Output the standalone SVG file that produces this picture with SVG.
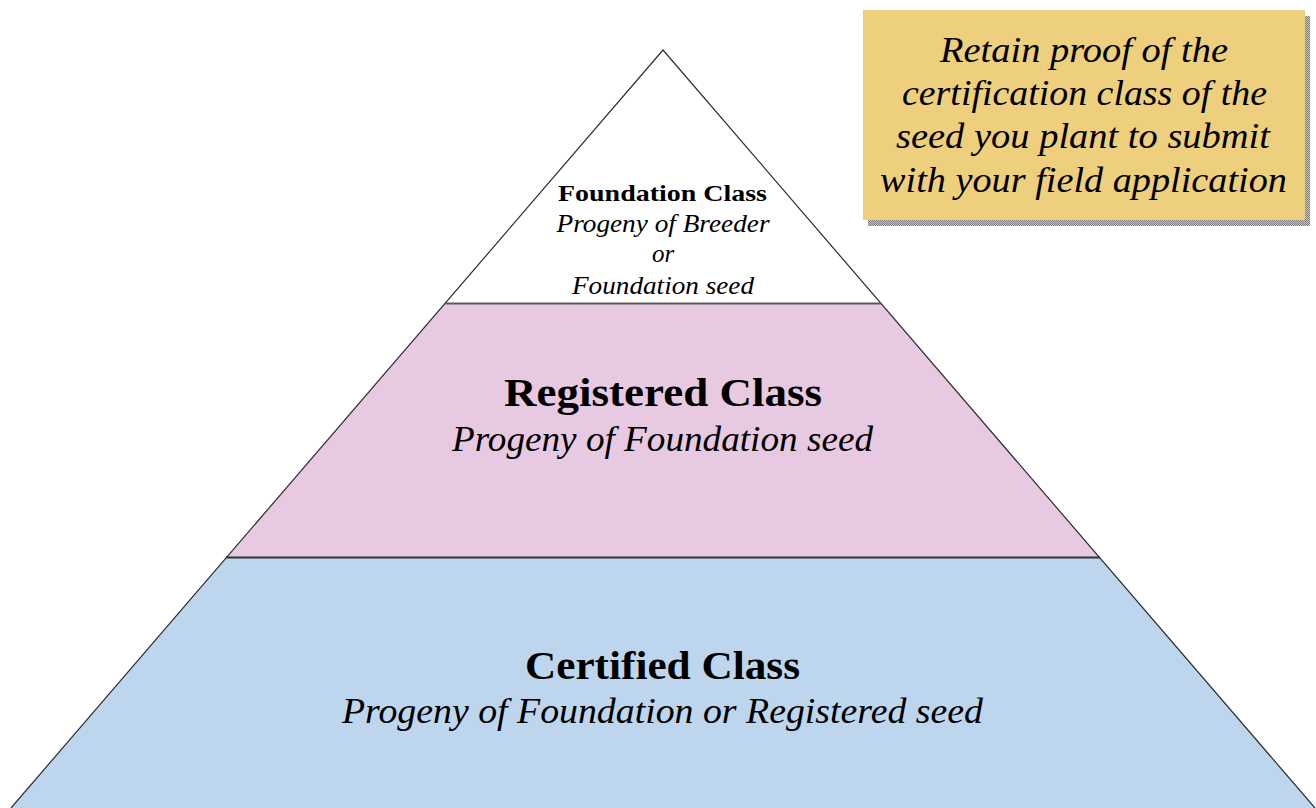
<svg xmlns="http://www.w3.org/2000/svg" width="1316" height="808" viewBox="0 0 1316 808">
  <defs>
    <style>
      .edge { fill: none; stroke: #2b2b2b; stroke-width: 1.2; }
      .divider { fill: none; stroke-width: 2.2; }
      .title { font-family: "Liberation Serif", "DejaVu Serif", serif; font-weight: bold; fill: #000; text-anchor: middle; }
      .sub { font-family: "Liberation Serif", "DejaVu Serif", serif; font-style: italic; fill: #000; text-anchor: middle; }
    </style>
    <pattern id="shadowDots" width="2" height="2" patternUnits="userSpaceOnUse">
      <rect width="2" height="2" fill="#c8c8c8"/>
      <rect width="1" height="1" fill="#7a7a7a"/>
      <rect x="1" y="1" width="1" height="1" fill="#7a7a7a"/>
    </pattern>
    <clipPath id="apexClip">
      <rect x="0" y="0" width="1316" height="294"/>
    </clipPath>
  </defs>

  <rect width="1316" height="808" fill="#ffffff"/>

  <!-- top tier: Foundation -->
  <g id="tier-foundation">
    <polygon points="663,50 445.4,303 880.6,303" fill="#ffffff"/>
    <g clip-path="url(#apexClip)">
      <text class="title" x="662.5" y="201" font-size="24" textLength="209" lengthAdjust="spacingAndGlyphs">Foundation Class</text>
      <text class="sub" x="663" y="232" font-size="25" textLength="213" lengthAdjust="spacingAndGlyphs">Progeny of Breeder</text>
      <text class="sub" x="663" y="262" font-size="25">or</text>
      <text class="sub" x="663" y="294" font-size="25" textLength="182" lengthAdjust="spacingAndGlyphs">Foundation seed</text>
    </g>
  </g>

  <!-- middle tier: Registered -->
  <g id="tier-registered">
    <polygon points="445.4,303 880.6,303 1100,558 226,558" fill="#e7c9e2"/>
    <text class="title" x="663" y="406" font-size="40" textLength="318" lengthAdjust="spacingAndGlyphs">Registered Class</text>
    <text class="sub" x="662.5" y="451" font-size="35" textLength="421" lengthAdjust="spacingAndGlyphs">Progeny of Foundation seed</text>
  </g>

  <!-- bottom tier: Certified -->
  <g id="tier-certified">
    <polygon points="226,558 1100,558 1315,808 11,808" fill="#bdd6ee"/>
    <text class="title" x="662.5" y="679" font-size="41" textLength="275" lengthAdjust="spacingAndGlyphs">Certified Class</text>
    <text class="sub" x="662.5" y="723" font-size="36" textLength="641" lengthAdjust="spacingAndGlyphs">Progeny of Foundation or Registered seed</text>
  </g>

  <!-- pyramid outline and tier dividers -->
  <g id="outline">
    <polyline class="edge" points="11,808 663,50 1315,808"/>
    <line class="divider" stroke="#5a5a5a" x1="445.4" y1="303.5" x2="880.6" y2="303.5"/>
    <line class="divider" stroke="#333333" x1="226" y1="557.5" x2="1100" y2="557.5"/>
  </g>

  <!-- side note -->
  <g id="note">
    <rect x="868" y="16" width="442" height="210" fill="url(#shadowDots)"/>
    <rect x="863" y="10" width="442" height="210" fill="#edcf7d"/>
    <text class="sub" x="1084" y="62" font-size="35" textLength="288" lengthAdjust="spacingAndGlyphs">Retain proof of the</text>
    <text class="sub" x="1084.5" y="105" font-size="35" textLength="365" lengthAdjust="spacingAndGlyphs">certification class of the</text>
    <text class="sub" x="1083" y="148" font-size="35" textLength="374" lengthAdjust="spacingAndGlyphs">seed you plant to submit</text>
    <text class="sub" x="1083.5" y="192" font-size="35" textLength="407" lengthAdjust="spacingAndGlyphs">with your field application</text>
  </g>
</svg>
